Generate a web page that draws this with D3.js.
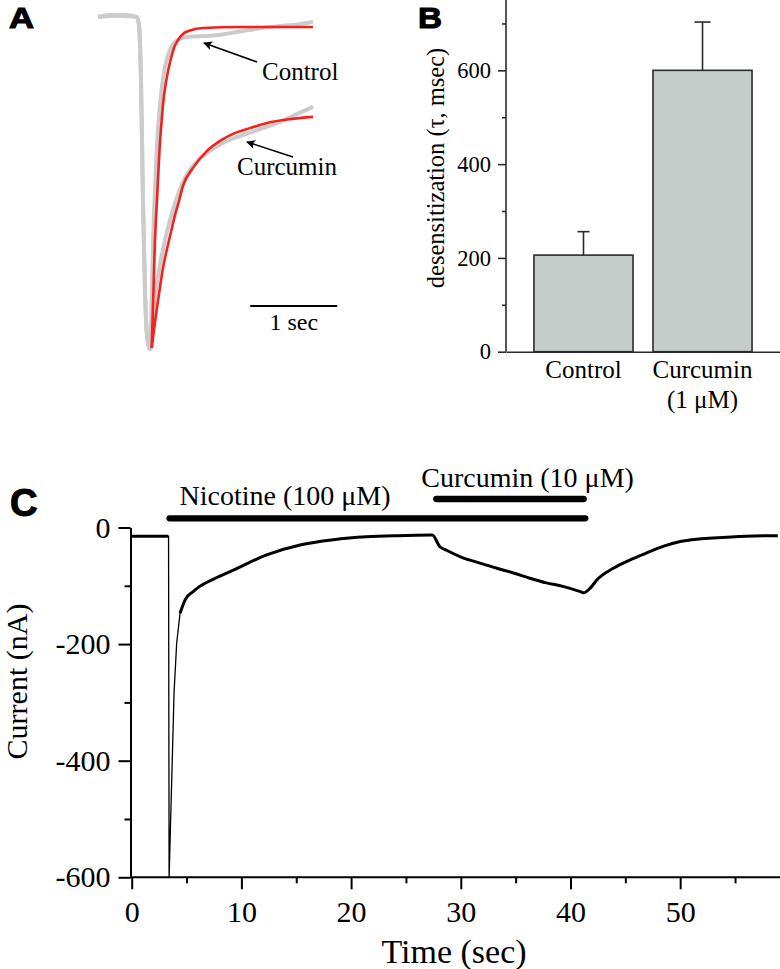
<!DOCTYPE html>
<html><head><meta charset="utf-8">
<script src="https://cdn.jsdelivr.net/npm/d3@7"></script>
<style>
body{margin:0;background:#fff}
svg{display:block}
text{font-family:"Liberation Serif","Times New Roman",serif;fill:#000}
text.plabel{font-family:"Liberation Sans",Arial,sans-serif;font-weight:bold;stroke:#000;stroke-width:1.1}
</style>
</head><body>
<svg id="chart" width="780" height="969"></svg>
<script>
// ---------------- DATA ----------------
// Panel A: currents normalised to peak (fraction) vs time (ms)
const aControlTrace = [[0,0.031],[140,0.037],[310,0.034],[448,0.031],[471,0.006],[494,-0.165],[517,-0.539],[540,-0.819],[563,-0.960],[586,-0.997],[598,-1.003],[609,-0.944],[621,-0.819],[632,-0.679],[655,-0.508],[678,-0.368],[713,-0.243],[759,-0.140],[828,-0.072],[920,-0.040],[1057,-0.030],[1230,-0.028],[1402,-0.024],[1632,-0.014],[1862,-0.004],[2092,0.003],[2322,0.009],[2471,0.016]];
const aCurcuminTrace = [[0,0.031],[140,0.034],[310,0.037],[448,0.031],[471,0.006],[494,-0.165],[517,-0.539],[540,-0.819],[563,-0.960],[586,-0.997],[598,-1.003],[609,-0.991],[632,-0.907],[667,-0.819],[713,-0.741],[770,-0.664],[828,-0.601],[897,-0.539],[977,-0.483],[1057,-0.445],[1172,-0.410],[1287,-0.386],[1425,-0.363],[1575,-0.345],[1747,-0.329],[1920,-0.313],[2092,-0.296],[2264,-0.274],[2471,-0.249]];
const aControlFit = [[617,-1],[638,-0.819],[655,-0.664],[678,-0.539],[707,-0.383],[732,-0.290],[753,-0.227],[782,-0.171],[828,-0.109],[874,-0.065],[920,-0.040],[989,-0.019],[1057,-0.011],[1207,-0.003],[1632,0],[2471,0]];
const aCurcuminFit = [[617,-1],[655,-0.919],[701,-0.832],[747,-0.751],[790,-0.695],[828,-0.651],[885,-0.586],[931,-0.542],[977,-0.495],[1092,-0.439],[1253,-0.386],[1402,-0.355],[1552,-0.333],[1747,-0.315],[1943,-0.299],[2207,-0.287],[2471,-0.280]];
const aLabels = ["Control", "Curcumin"];
const aScaleBarMs = 1000;
const aScaleLabel = "1 sec";

// Panel B: desensitization tau (msec)
const bCategories = ["Control", "Curcumin"];
const bSubLabels = ["", "(1 \u03bcM)"];
const bValues = [206, 600];
const bErrors = [50, 103];
const bTicks = [0, 200, 400, 600];
const bMinorTicks = [100, 300, 500, 700];
const bYLabel = "desensitization (\u03c4, msec)";

// Panel C: current (nA) vs time (sec)
const cTime =    [0,   3.33, 3.36, 3.41, 3.86, 4.10, 4.41, 4.87, 5.6,  6.2,  7.5, 9.27, 12.3, 15.35, 18.4, 21.4, 24.2, 27.4, 28.1, 28.7, 30.2, 31.75, 33.3, 34.8, 36.3, 37.8, 39.3, 40.9, 41.2, 41.8, 42.4, 43.9, 45.4, 46.9, 48.5, 50.0, 51.5, 53.0, 56.0, 58.9];
const cCurrent = [-15, -15,  -15, -600, -284, -198, -147, -124, -110, -101, -88, -73,  -47,  -30,   -21,  -16,  -14,  -13,  -33,  -39,  -52,  -61,   -70,  -78,  -87,  -95,  -101, -110, -112, -104, -90,  -70,  -56,  -44,  -32,  -24,  -20,  -18,  -15,  -14];
const cXTicks = [0, 10, 20, 30, 40, 50];
const cXMinor = [5, 15, 25, 35, 45, 55];
const cYTicks = [0, -200, -400, -600];
const cYTickLabels = ["0", "-200", "-400", "-600"];
const cYMinor = [-100, -300, -500];
const cDrugs = ["Nicotine (100 \u03bcM)", "Curcumin (10 \u03bcM)"];
const cDrugStart = [3.45, 27.77];
const cDrugEnd = [41.35, 41.2];
const cXLabel = "Time (sec)";
const cYLabel = "Current (nA)";

// ---------------- DRAW ----------------
const svg = d3.select("#chart");
const GRAY = "#c9cccb", RED = "#f8201a";

// ===== Panel A =====
const xA = d3.scaleLinear().domain([0, 1000]).range([98, 185]);
const yA = d3.scaleLinear().domain([-1, 0]).range([348, 27]);
const lineA = d3.line().x(d => xA(d[0])).y(d => yA(d[1])).curve(d3.curveMonotoneX);
const gA = svg.append("g");
[aControlTrace, aCurcuminTrace].forEach(tr => {
  gA.append("path").attr("d", lineA(tr)).attr("fill", "none")
    .attr("stroke", GRAY).attr("stroke-width", 4).attr("stroke-linejoin", "round");
});
[aControlFit, aCurcuminFit].forEach(tr => {
  gA.append("path").attr("d", lineA(tr)).attr("fill", "none")
    .attr("stroke", RED).attr("stroke-width", 2.6).attr("stroke-linejoin", "round");
});
svg.append("defs").append("marker").attr("id", "arr")
  .attr("viewBox", "0 0 10 10").attr("refX", 9).attr("refY", 5)
  .attr("markerWidth", 13).attr("markerHeight", 9).attr("markerUnits", "userSpaceOnUse")
  .attr("orient", "auto")
  .append("path").attr("d", "M10,5 L0,0 L2.5,5 L0,10 Z").attr("fill", "#000");
const aArrowFrom = [[1828, -0.109], [2241, -0.405]];
const aArrowTo = [[1218, -0.050], [1713, -0.358]];
const aLabelPos = [[1885, -0.165], [1598, -0.461]];
aLabels.forEach((lab, i) => {
  gA.append("line")
    .attr("x1", xA(aArrowFrom[i][0])).attr("y1", yA(aArrowFrom[i][1]))
    .attr("x2", xA(aArrowTo[i][0])).attr("y2", yA(aArrowTo[i][1]))
    .attr("stroke", "#000").attr("stroke-width", 1.5).attr("marker-end", "url(#arr)");
  gA.append("text").attr("x", xA(aLabelPos[i][0])).attr("y", yA(aLabelPos[i][1]))
    .attr("font-size", 25).text(lab);
});
const sbStart = 1750, sbLevel = -0.869;
gA.append("line").attr("x1", xA(sbStart)).attr("x2", xA(sbStart + aScaleBarMs))
  .attr("y1", yA(sbLevel)).attr("y2", yA(sbLevel)).attr("stroke", "#000").attr("stroke-width", 2);
gA.append("text").attr("x", (xA(sbStart) + xA(sbStart + aScaleBarMs)) / 2).attr("y", 330)
  .attr("text-anchor", "middle").attr("font-size", 24).text(aScaleLabel);
svg.append("text").attr("class", "plabel").attr("x", 9).attr("y", 28)
  .attr("font-size", 29).attr("textLength", 25).attr("lengthAdjust", "spacingAndGlyphs").text("A");

// ===== Panel B =====
const xB = d3.scaleBand().domain(bCategories).range([506, 780]).paddingInner(0.168).paddingOuter(0.235);
const yB = d3.scaleLinear().domain([0, 750]).range([351.7, 0]);
const gB = svg.append("g");
bCategories.forEach((c, i) => {
  const cx = xB(c) + xB.bandwidth() / 2;
  const cap = i === 0 ? 6 : 8;
  gB.append("line").attr("x1", cx).attr("x2", cx)
    .attr("y1", yB(bValues[i])).attr("y2", yB(bValues[i] + bErrors[i]))
    .attr("stroke", "#2b2b2b").attr("stroke-width", 1.6);
  gB.append("line").attr("x1", cx - cap).attr("x2", cx + cap)
    .attr("y1", yB(bValues[i] + bErrors[i])).attr("y2", yB(bValues[i] + bErrors[i]))
    .attr("stroke", "#2b2b2b").attr("stroke-width", 1.6);
  gB.append("rect").attr("x", xB(c)).attr("width", xB.bandwidth())
    .attr("y", yB(bValues[i])).attr("height", yB(0) - yB(bValues[i]))
    .attr("fill", "#c5ccc9").attr("stroke", "#2b2b2b").attr("stroke-width", 1.6);
  gB.append("text").attr("x", cx).attr("y", 378).attr("text-anchor", "middle")
    .attr("font-size", 25).text(c);
  if (bSubLabels[i]) gB.append("text").attr("x", cx).attr("y", 408).attr("text-anchor", "middle")
    .attr("font-size", 25).text(bSubLabels[i]);
});
const axB = gB.append("g").attr("transform", "translate(506,0)")
  .call(d3.axisLeft(yB).tickValues(bTicks).tickSize(8).tickPadding(7).tickSizeOuter(0));
axB.select(".domain").attr("d", `M0,${yB(0)}V0`);
axB.selectAll("text").attr("font-size", 22.5).attr("font-family", "Liberation Serif");
gB.append("g").attr("transform", "translate(506,0)")
  .call(d3.axisLeft(yB).tickValues(bMinorTicks).tickSize(4).tickFormat("").tickSizeOuter(0))
  .select(".domain").remove();
gB.append("g").attr("transform", `translate(0,${yB(0)})`)
  .call(d3.axisBottom(xB).tickSize(0).tickFormat("").tickSizeOuter(0));
gB.selectAll(".domain, .tick line").attr("stroke", "#2b2b2b").attr("stroke-width", 1.6);
gB.append("text").attr("transform", "translate(444,168) rotate(-90)")
  .attr("text-anchor", "middle").attr("font-size", 24.5).text(bYLabel);
svg.append("text").attr("class", "plabel").attr("x", 418).attr("y", 28)
  .attr("font-size", 30).attr("textLength", 24).attr("lengthAdjust", "spacingAndGlyphs").text("B");

// ===== Panel C =====
const xC = d3.scaleLinear().domain([0, 59.1]).range([131.7, 780]);
const yC = d3.scaleLinear().domain([-600, 0]).range([877.3, 527.5]);
const gC = svg.append("g");
const cData = cTime.map((t, i) => [t, cCurrent[i]]);
const lineC = d3.line().x(d => xC(d[0])).y(d => yC(d[1]));
const lineCs = d3.line().x(d => xC(d[0])).y(d => yC(d[1])).curve(d3.curveMonotoneX);
gC.append("path").attr("d", lineC(cData.filter(d => d[0] <= 3.34)))
  .attr("fill", "none").attr("stroke", "#000").attr("stroke-width", 3);
gC.append("path").attr("d", lineC(cData.filter(d => d[0] >= 3.33 && d[0] <= 4.87)))
  .attr("fill", "none").attr("stroke", "#000").attr("stroke-width", 1.3);
gC.append("path").attr("d", lineCs(cData.filter(d => d[0] >= 4.41)))
  .attr("fill", "none").attr("stroke", "#000").attr("stroke-width", 3).attr("stroke-linejoin", "round");

const drugY = [518.3, 499];
const drugLabelDx = [10, -15];
const drugLabelY = [505, 486.7];
cDrugs.forEach((lab, i) => {
  gC.append("line").attr("x1", xC(cDrugStart[i])).attr("x2", xC(cDrugEnd[i]))
    .attr("y1", drugY[i]).attr("y2", drugY[i])
    .attr("stroke", "#000").attr("stroke-width", 6.3).attr("stroke-linecap", "round");
  gC.append("text").attr("x", xC(cDrugStart[i]) + drugLabelDx[i]).attr("y", drugLabelY[i])
    .attr("font-size", 28).text(lab);
});

const axCx = gC.append("g").attr("transform", `translate(0,${yC(-600)})`)
  .call(d3.axisBottom(xC).tickValues(cXTicks).tickSize(12).tickPadding(11).tickSizeOuter(0));
axCx.select(".domain").attr("d", `M130,0H780`);
axCx.selectAll("text").attr("font-size", 30).attr("font-family", "Liberation Serif");
gC.append("g").attr("transform", `translate(0,${yC(-600)})`)
  .call(d3.axisBottom(xC).tickValues(cXMinor).tickSize(6).tickFormat("").tickSizeOuter(0))
  .select(".domain").remove();
const axCy = gC.append("g").attr("transform", "translate(130.5,0)")
  .call(d3.axisLeft(yC).tickValues(cYTicks).tickSize(12).tickPadding(8).tickSizeOuter(0)
    .tickFormat((d, i) => cYTickLabels[i]));
axCy.selectAll("text").attr("font-size", 30).attr("font-family", "Liberation Serif");
gC.append("g").attr("transform", "translate(130.5,0)")
  .call(d3.axisLeft(yC).tickValues(cYMinor).tickSize(6).tickFormat("").tickSizeOuter(0))
  .select(".domain").remove();
gC.selectAll(".domain, .tick line").attr("stroke", "#000").attr("stroke-width", 2);
gC.append("text").attr("x", 454).attr("y", 963).attr("text-anchor", "middle")
  .attr("font-size", 34).text(cXLabel);
gC.append("text").attr("transform", "translate(27,681.5) rotate(-90)")
  .attr("text-anchor", "middle").attr("font-size", 30).text(cYLabel);
svg.append("text").attr("class", "plabel").attr("x", 10).attr("y", 516)
  .attr("font-size", 38).text("C");
</script>
</body></html>
